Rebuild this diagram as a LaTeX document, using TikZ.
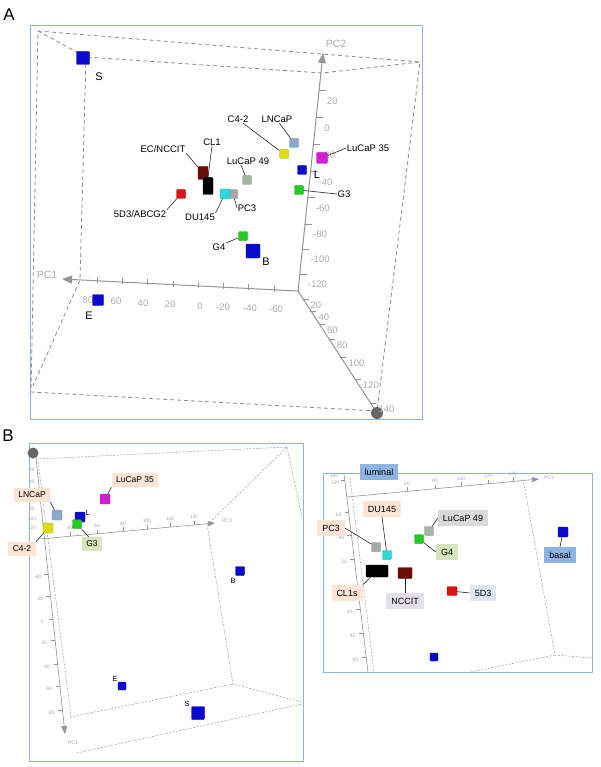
\documentclass[tikz,border=0pt]{standalone}
\usepackage{fontspec}
\setmainfont{Liberation Sans}
\usetikzlibrary{arrows.meta}

\definecolor{frameblue}{HTML}{8DB3E2}
\definecolor{cblue}{HTML}{0A0ACC}
\definecolor{csteel}{HTML}{8EA9CF}
\definecolor{cyellow}{HTML}{DCDC10}
\definecolor{cmagenta}{HTML}{D020D0}
\definecolor{cgreen}{HTML}{22CC22}
\definecolor{csage}{HTML}{A3B5A3}
\definecolor{cmaroon}{HTML}{6B0C0C}
\definecolor{cgray}{HTML}{A8A8A8}
\definecolor{ccyan}{HTML}{2ED8D8}
\definecolor{cred}{HTML}{DD1111}
\definecolor{tpeach}{HTML}{FCE4D6}
\definecolor{tgreen}{HTML}{D8E4BC}
\definecolor{tgray}{HTML}{D9D9D9}
\definecolor{tlav}{HTML}{E4DFEC}
\definecolor{tsky}{HTML}{DCE6F1}
\definecolor{tblue}{HTML}{8DB4E2}

\tikzset{
  panelframe/.style={draw=frameblue, line width=1},
  boxline/.style={draw=black!45, line width=0.8, dash pattern=on 4 off 3},
  boxthin/.style={draw=black!40, line width=0.5, dash pattern=on 2 off 1.5},
  axline/.style={draw=black!42, line width=1},
  axthin/.style={draw=black!42, line width=0.6},
  cube/.style={fill=#1, draw=#1!80!black, line width=0.4, minimum size=9, inner sep=0, rounded corners=0.8},
  ptlbl/.style={font=\fontsize{9.5}{11}\selectfont, inner sep=0.5},
  caplbl/.style={font=\fontsize{11}{13}\selectfont, inner sep=0.5},
  smlbl/.style={font=\fontsize{7.5}{9}\selectfont, inner sep=0.5},
  panellbl/.style={font=\fontsize{17}{19}\selectfont, inner sep=0},
  ticklbl/.style={text=black!33, font=\fontsize{9.5}{11}\selectfont, inner sep=0},
  tinylbl/.style={text=black!35, font=\fontsize{5}{6}\selectfont, inner sep=0},
  tag/.style={fill=#1, inner ysep=0, inner xsep=4.5, minimum height=14, font=\fontsize{8.5}{10}\selectfont},
  tagr/.style={tag=#1, inner xsep=5, minimum height=16, font=\fontsize{9}{11}\selectfont},
  lead/.style={draw=black!85, line width=0.6},
}

\begin{document}
\begin{tikzpicture}[x=1pt,y=-1pt]
  \useasboundingbox (0,0) rectangle (600,767);

  %%%%% PANEL A %%%%%
  \node[panellbl] (Alab) at (9,15) {A};
  \draw[panelframe] (30,26) rectangle (422,419);

  % cube outline
  \draw[boxline] (38,31) -- (420,62) -- (377,411) -- (31,392) -- cycle;
  \draw[boxline] (38,31) -- (86,57) -- (322,73) -- (420,62);
  \draw[boxline] (86,57) -- (80,280) -- (33,386);

  % axes
  \draw[axline, -{Triangle[length=10,width=8]}] (298,291) -- (62,279);
  \draw[axline, -{Triangle[length=10,width=8]}] (298,291) -- (323,53);
  \draw[axline] (298,291) -- (377,413);
  \fill[black!60] (377,413) circle (6);
  \node[ticklbl, font=\fontsize{10.5}{12}\selectfont] (pc1a) at (47,275) {PC1};
  \node[ticklbl, font=\fontsize{10.5}{12}\selectfont] (pc2a) at (336,44) {PC2};

  \foreach \tx/\lx/\ly/\lab [count=\i] in {97/88/300/80, 122/116/301/60, 147/143/303/40, 173/170/304/20, 198/200/306/0, 223/223/307/-20, 248/250/308/-40, 274/276/309/-60}{
    \draw[axline] (\tx,{281+(\tx-62)*0.0508}) -- ++(0,-6);
    \node[ticklbl] (pcxa\i) at (\lx,\ly) {\lab};
  }
  \foreach \ly/\lab [count=\i] in {101/20, 128/0, 155/-20, 182/-40, 208/-60, 234/-80, 259/-100, 284/-120}{
    \draw[axline] ({298+(301-\ly)*0.105},\ly-10) -- ++(7,0);
    \node[ticklbl, anchor=west] (pcya\i) at ({298+(291-\ly)*0.105+9},\ly) {\lab};
  }
  \foreach \ly/\lab [count=\i] in {305/20, 317/40, 330/60, 345/80, 363/100, 385/120, 409/140}{
    \draw[axline] ({298+(\ly-298)*0.653},\ly-6) -- ++(6,0);
    \node[ticklbl, anchor=west] (pcza\i) at ({298+(\ly-292)*0.653+4},\ly) {\lab};
  }

  % samples
  \node[cube=cblue, minimum size=13] (Sa) at (83,58) {};
  \node[cube=csteel] (LNCaPa) at (294,143) {};
  \node[cube=cyellow] (C42a) at (284,154) {};
  \node[cube=cmagenta, minimum size=11] (L35a) at (322,158) {};
  \node[cube=cblue] (La) at (302,170) {};
  \node[cube=cgreen] (G3a) at (299,190) {};
  \node[cube=csage] (L49a) at (247,180) {};
  \node[cube=cmaroon, minimum width=10, minimum height=13] (ECa) at (203,173) {};
  \node[cube=black, minimum width=10, minimum height=17] (CL1a) at (208,186) {};
  \node[cube=cgray] (PC3a) at (233,194) {};
  \node[cube=ccyan, minimum size=10] (DU145a) at (225,194) {};
  \node[cube=cred] (D53a) at (181,194) {};
  \node[cube=cgreen] (G4a) at (243,236) {};
  \node[cube=cblue, minimum size=14] (Ba) at (253,251) {};
  \node[cube=cblue, minimum size=11] (Ea) at (98,300) {};

  \node[caplbl] (Sa-l) at (99,77) {S};
  \node[caplbl] (La-l) at (317,175) {L};
  \node[caplbl] (Ba-l) at (266,262) {B};
  \node[caplbl] (Ea-l) at (89,316) {E};
  \node[ptlbl] (C42a-l) at (238,119) {C4-2};
  \node[ptlbl] (LNCaPa-l) at (277,119) {LNCaP};
  \node[ptlbl] (L35a-l) at (368,148) {LuCaP 35};
  \node[ptlbl] (G3a-l) at (344,194) {G3};
  \node[ptlbl] (L49a-l) at (248,161) {LuCaP 49};
  \node[ptlbl] (ECa-l) at (163,149) {EC/NCCIT};
  \node[ptlbl] (CL1a-l) at (212,142) {CL1};
  \node[ptlbl] (PC3a-l) at (247,208) {PC3};
  \node[ptlbl] (DU145a-l) at (200,217) {DU145};
  \node[ptlbl] (D53a-l) at (140,214) {5D3/ABCG2};
  \node[ptlbl] (G4a-l) at (219,247) {G4};

  \draw[lead] (C42a-l.-40) -- (C42a);
  \draw[lead] (LNCaPa-l.-60) -- (LNCaPa);
  \draw[lead] (L35a-l.west) -- (L35a);
  \draw[lead] (G3a-l.west) -- (G3a);
  \draw[lead] ([xshift=-7]L49a-l.south) -- (L49a);
  \draw[lead] (ECa-l.south east) -- (ECa);
  \draw[lead] (CL1a-l.south) -- (CL1a.north);
  \draw[lead] (PC3a-l.west) -- (PC3a);
  \draw[lead] (DU145a-l.north east) -- (DU145a);
  \draw[lead] (D53a-l.north east) -- (D53a);
  \draw[lead] (G4a-l.north east) -- (G4a);

  %%%%% PANEL B, LEFT %%%%%
  \node[panellbl] (Blab) at (8,436) {B};
  \draw[panelframe] (29,443) rectangle (303,761);

  \draw[boxthin] (36,459) -- (287,447) -- (210,522);
  \draw[boxthin] (287,447) -- (302,517);
  \draw[boxthin] (207,524) -- (233,684) -- (302,702);
  \draw[boxthin] (233,684) -- (70,717);
  \draw[boxthin] (77,753) -- (302,704);
  \draw[boxthin] (38,462) -- (71,716);

  \draw[axthin, -{Triangle[length=8,width=6]}] (36,458) -- (65,734);
  \draw[axthin, -{Triangle[length=7,width=5]}] (40,539) -- (215,523);
  \fill[black!60] (33,453) circle (5.5);
  \node[tinylbl] (pc3b) at (227,521) {PC3};
  \node[tinylbl] (pc1b) at (73,743) {PC1};

  \foreach \lx/\lab [count=\i] in {70/40, 97/60, 123/80, 147/100, 170/120, 194/140}{
    \draw[axthin] (\lx,{539-(\lx-40)*0.0914}) -- ++(0,-4);
    \node[tinylbl] (pcxb\i) at (\lx,{531-(\lx-40)*0.0914}) {\lab};
  }
  \foreach \ly/\lab [count=\i] in {577/-40, 599/-20, 622/0, 643/20, 667/40, 689/60, 713/80}{
    \draw[axthin] ({36+(\ly-461)*0.105},\ly-3) -- ++(-4,0);
    \node[tinylbl] (pcyb\i) at ({36+(\ly-458)*0.105-11},\ly) {\lab};
  }
  \foreach \ly/\lab [count=\i] in {470/20, 482/40, 509/80, 519/100, 528/120}{
    \node[tinylbl] (pczb\i) at (32,\ly) {\lab};
  }

  \node[cube=cmagenta, minimum size=10] (L35b) at (105,499) {};
  \node[cube=csteel, minimum size=10] (LNCaPb) at (57,515) {};
  \node[cube=cblue, minimum size=10] (Lb) at (80,517) {};
  \node[cube=cgreen] (G3b) at (77,524) {};
  \node[cube=cyellow, minimum size=10] (C42b) at (48,528) {};
  \node[cube=cblue] (Bb) at (240,571) {};
  \node[cube=cblue, minimum size=8] (Eb) at (122,686) {};
  \node[cube=cblue, minimum size=13] (Sb) at (198,713) {};

  \node[smlbl] (Lb-l) at (88,513) {L};
  \node[smlbl] (Bb-l) at (233,581) {B};
  \node[smlbl] (Eb-l) at (115,679) {E};
  \node[smlbl] (Sb-l) at (187,704) {S};
  \node[tag=tpeach] (L35b-t) at (135,480) {LuCaP 35};
  \node[tag=tpeach] (LNCaPb-t) at (32,495) {LNCaP};
  \node[tag=tgreen] (G3b-t) at (92,544) {G3};
  \node[tag=tpeach] (C42b-t) at (22,549) {C4-2};

  \draw[lead] (L35b-t.south west) -- (L35b);
  \draw[lead] (LNCaPb-t.south east) -- (LNCaPb);
  \draw[lead] (G3b-t.115) -- (G3b);
  \draw[lead] (C42b-t.north east) -- (C42b);

  %%%%% PANEL B, RIGHT %%%%%
  \draw[panelframe] (323,473) rectangle (592,672);

  \draw[boxthin] (350,478) -- (374,672);
  \draw[boxthin] (523,479) -- (555,655) -- (592,658);
  \draw[boxthin] (555,655) -- (470,672);
  \draw[axthin] (344,474) -- (368,672);
  \draw[axthin, -{Triangle[length=7,width=5]}] (347,497) -- (539,479);
  \node[tinylbl] (pc3c) at (549,478) {PC3};

  \foreach \lx/\lab [count=\i] in {407/60, 435/80, 461/100, 488/120, 513/140}{
    \draw[axthin] (\lx,{497-(\lx-347)*0.094}) -- ++(0,-4);
    \node[tinylbl] (pcxc\i) at (\lx,{489-(\lx-347)*0.094}) {\lab};
  }
  \foreach \ly/\lab [count=\i] in {476/-100, 483/-120, 515/-60, 538/-40, 562/-20, 612/20, 636/40, 660/60}{
    \draw[axthin] ({344+(\ly-477)*0.121},\ly-3) -- ++(-4,0);
    \node[tinylbl] (pcyc\i) at ({344+(\ly-474)*0.121-11},\ly) {\lab};
  }

  \node[cube=cgray] (PC3c) at (376,547) {};
  \node[cube=ccyan] (DU145c) at (387,555) {};
  \node[cube=csage] (L49c) at (429,531) {};
  \node[cube=cgreen] (G4c) at (419,539) {};
  \node[cube=black, minimum width=22, minimum height=12] (CL1c) at (377,571) {};
  \node[cube=cmaroon, minimum width=14, minimum height=11] (NCCITc) at (405,573) {};
  \node[cube=cred, minimum width=10] (D53c) at (452,591) {};
  \node[cube=cblue, minimum size=10] (basalc) at (563,532) {};
  \node[cube=cblue, minimum size=8] (Xc) at (434,657) {};

  \node[tagr=tblue] (luminalc-t) at (379,472) {luminal};
  \node[tagr=tpeach] (PC3c-t) at (331,528) {PC3};
  \node[tagr=tpeach] (DU145c-t) at (382,509) {DU145};
  \node[tagr=tgray] (L49c-t) at (463,518) {LuCaP 49};
  \node[tagr=tgreen] (G4c-t) at (447,552) {G4};
  \node[tagr=tpeach] (CL1c-t) at (347,593) {CL1s};
  \node[tagr=tlav] (NCCITc-t) at (405,601) {NCCIT};
  \node[tagr=tsky] (D53c-t) at (483,593) {5D3};
  \node[tagr=tblue] (basalc-t) at (560,555) {basal};

  \draw[lead] (PC3c-t.east) -- (PC3c);
  \draw[lead] (DU145c-t.south) -- (DU145c);
  \draw[lead] (L49c-t.west) -- (L49c);
  \draw[lead] (G4c-t.west) -- (G4c);
  \draw[lead] (CL1c-t.north east) -- (CL1c);
  \draw[lead] (NCCITc-t.north) -- (NCCITc);
  \draw[lead] (D53c-t.west) -- (D53c);
  \draw[lead] (basalc-t.north) -- (basalc);
\end{tikzpicture}
\end{document}
